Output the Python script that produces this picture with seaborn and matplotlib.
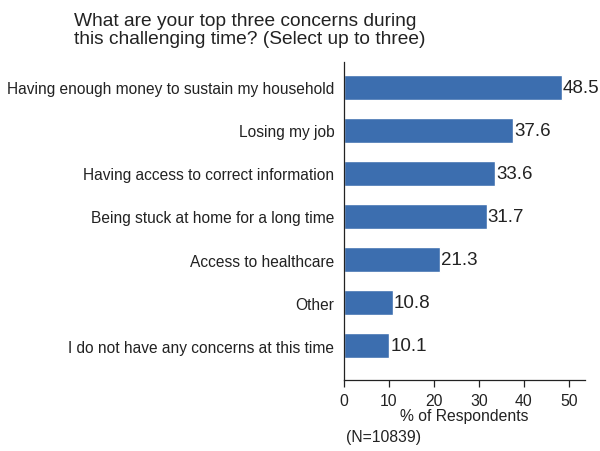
import matplotlib
matplotlib.use("Agg")
import matplotlib.pyplot as plt
import seaborn as sns
import pandas as pd

categories = [
    "Having enough money to sustain my household",
    "Losing my job",
    "Having access to correct information",
    "Being stuck at home for a long time",
    "Access to healthcare",
    "Other",
    "I do not have any concerns at this time",
]
values = [48.5, 37.6, 33.6, 31.7, 21.3, 10.8, 10.1]
xticks = [0, 10, 20, 30, 40, 50]

sns.set_theme(style="white")
plt.rcParams['font.family'] = ['Liberation Sans', 'DejaVu Sans']
plt.rcParams['xtick.bottom'] = True
plt.rcParams['xtick.major.size'] = 5
plt.rcParams['xtick.major.width'] = 0.9
plt.rcParams['xtick.color'] = "#222222"

df = pd.DataFrame({"cat": categories, "val": values})

fig = plt.figure(figsize=(6.0, 4.52), dpi=100)
ax = fig.add_axes([0.5733, 0.157, 0.4017, 0.7036])
color = "#3c6eaf"
sns.barplot(data=df, x="val", y="cat", orient="h", color=color, width=0.58,
            saturation=1, ax=ax)
ax.set_xlim(0, 53.6)
ax.set_ylim(6.79, -0.58)
ax.set_xticks(xticks)
ax.set_xticklabels([str(t) for t in xticks], fontsize=11.3, color="#222222")
ax.tick_params(axis='x', bottom=True, direction='out', length=5, width=0.9,
               color="#222222", pad=4)
ax.tick_params(axis='y', left=False, length=0, pad=7, labelsize=11.2, labelcolor="#222222")
ax.set_ylabel("")
ax.set_xlabel("% of Respondents", fontsize=11.3, color="#222222", labelpad=0)
for s in ["top", "right"]:
    ax.spines[s].set_visible(False)
for s in ["left", "bottom"]:
    ax.spines[s].set_color("#222222")
    ax.spines[s].set_linewidth(0.9)

for i, v in enumerate(values):
    ax.text(v + 0.2, i, f"{v:.1f}", va="center", ha="left", fontsize=13.5,
            color="#222222")

fig.text(0.123, 0.972, "What are your top three concerns during\nthis challenging time? (Select up to three)",
         fontsize=13.8, color="#222222", va="top", ha="left", linespacing=1.08)
fig.text(0.577, 0.033, "(N=10839)", fontsize=11.3, color="#222222", ha="left", va="center")

fig.savefig("out.png", dpi=100, facecolor="white")
